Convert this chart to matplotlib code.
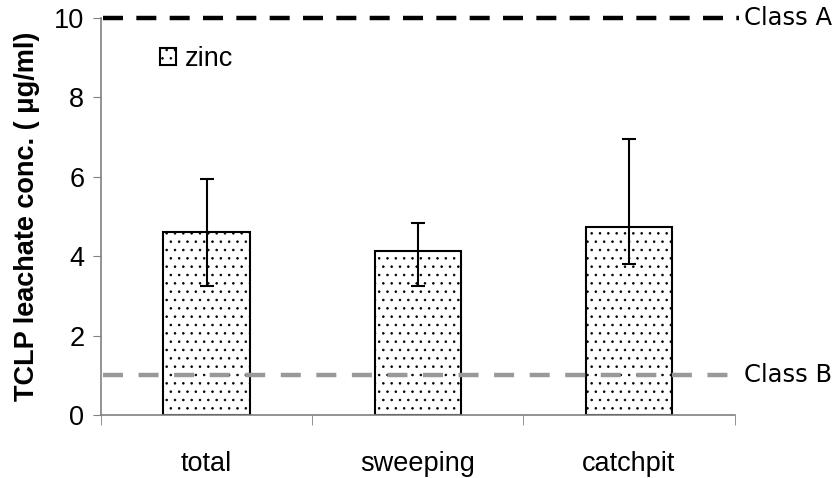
import matplotlib.pyplot as plt
import matplotlib as mpl

categories = ['total', 'sweeping', 'catchpit']
zinc = [4.6, 4.12, 4.73]
err_low = [1.36, 0.88, 0.93]
err_high = [1.34, 0.71, 2.22]
class_a = 10.0
class_b = 1.0

mpl.rcParams['font.family'] = ['Liberation Sans', 'DejaVu Sans']
mpl.rcParams['hatch.linewidth'] = 0.6
mpl.rcParams['hatch.color'] = '#444444'

fig = plt.figure(figsize=(8.37, 4.78), dpi=100)
ax = fig.add_axes([0.1207, 0.1318, 0.757, 0.8305])

x = range(len(categories))
ax.bar(x, zinc, width=0.41, color='white', edgecolor='black', linewidth=1.5,
       hatch='..', label='zinc', zorder=2)
ax.errorbar(x, zinc, yerr=[err_low, err_high], fmt='none', ecolor='black',
            elinewidth=1.5, capsize=5, capthick=1.5, zorder=4)

# regulatory limits
ax.plot([-0.49, 2.52], [class_a, class_a], color='black', lw=3.2,
        dashes=(4.5, 3), clip_on=False, zorder=3)
ax.plot([-0.49, 2.52], [class_b, class_b], color='#999999', lw=3.2,
        dashes=(4.5, 3.5), clip_on=False, zorder=3)
ax.text(2.545, class_a, 'Class A', fontsize=17.5, family='DejaVu Sans',
        va='center', ha='left')
ax.text(2.545, class_b, 'Class B', fontsize=17.5, family='DejaVu Sans',
        va='center', ha='left')

ax.set_xlim(-0.5, 2.5)
ax.set_ylim(0, 10)
ax.set_yticks([0, 2, 4, 6, 8, 10])
ax.set_xticks(x)
ax.set_xticklabels(categories)
ax.set_xticks([-0.5, 0.5, 1.5, 2.5], minor=True)
ax.tick_params(axis='x', which='major', length=0, pad=26, labelsize=19.5)
ax.tick_params(axis='x', which='minor', length=7, color='#808080', direction='out')
ax.tick_params(axis='y', length=6, color='#808080', labelsize=19.5, pad=6)

for s in ['top', 'right']:
    ax.spines[s].set_visible(False)
for s in ['left', 'bottom']:
    ax.spines[s].set_color('#808080')
    ax.spines[s].set_linewidth(1.2)

ax.set_ylabel('TCLP leachate conc. ( μg/ml)', fontsize=19.5, fontweight='bold',
              labelpad=10)

ax.legend(loc='upper left', bbox_to_anchor=(0.054, 0.99), frameon=False,
          handlelength=0.6, handleheight=0.6, handletextpad=0.35, fontsize=19.5)

fig.savefig('out.png', dpi=100)
